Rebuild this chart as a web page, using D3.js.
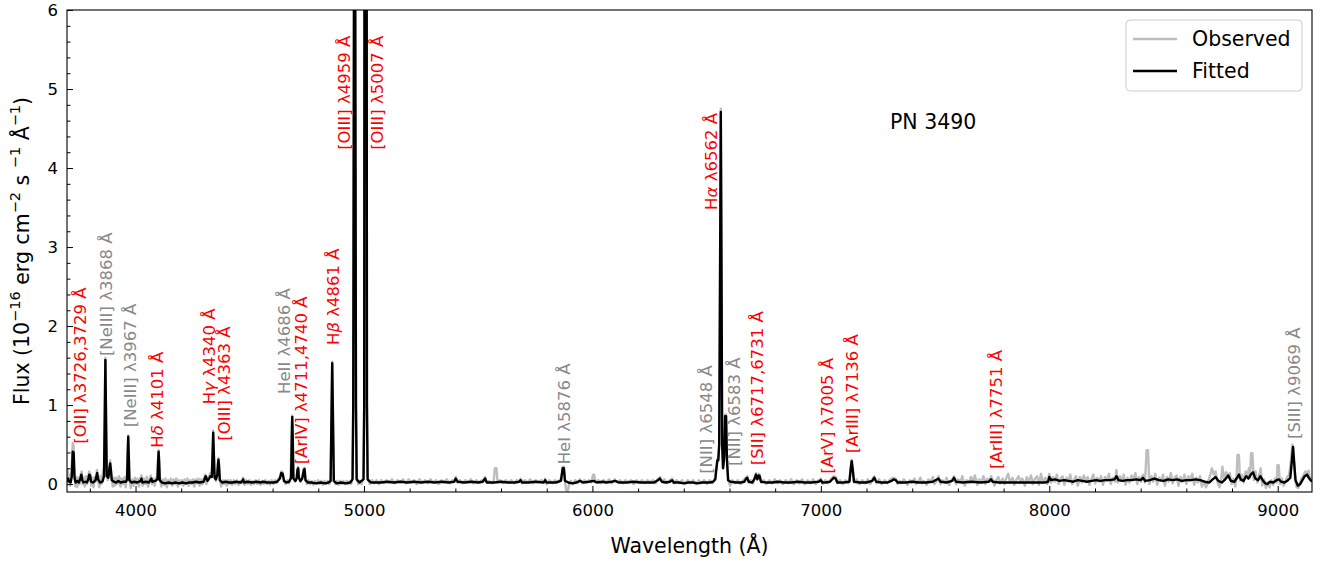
<!DOCTYPE html>
<html><head><meta charset="utf-8">
<script src="https://cdn.jsdelivr.net/npm/d3@7"></script>
<style>
body{margin:0;background:#fff}
text{font-family:"DejaVu Sans",sans-serif}
</style></head>
<body><svg id="chart" width="1325" height="561"></svg>
<script>
// ---------------- data ----------------
const xDomain = [3700, 9150];
const yDomain = [-0.1, 6];
const xMajorTicks = [4000, 5000, 6000, 7000, 8000, 9000];
const xMinorTicks = [3800, 4200, 4400, 4600, 4800, 5200, 5400, 5600, 5800, 6200, 6400, 6600, 6800, 7200, 7400, 7600, 7800, 8200, 8400, 8600, 8800];
const yMajorTicks = [0, 1, 2, 3, 4, 5, 6];
const yMinorTicks = [0.2,0.4,0.6,0.8,1.2,1.4,1.6,1.8,2.2,2.4,2.6,2.8,3.2,3.4,3.6,3.8,4.2,4.4,4.6,4.8,5.2,5.4,5.6,5.8];
const seriesNames = ["Observed", "Fitted"];
const objectName = "PN 3490";

// fitted model spectrum [wavelength Å, flux]
const fitted = [
[3700,0.03],[3705,0.07],[3710,0.03],[3716,0.02],[3721,0.1],[3725,0.41],[3729,0.40],[3733,0.08],[3738,0.02],[3746,0.04],[3752,0.02],[3759,0.08],[3763,0.12],[3767,0.05],[3772,0.02],[3780,0.03],[3787,0.02],[3793,0.06],[3797,0.12],[3801,0.11],[3805,0.03],[3814,0.02],[3825,0.05],[3832,0.14],[3836,0.06],[3845,0.02],[3855,0.03],[3862,0.1],[3865,0.8],[3868,1.57],[3871,0.8],[3874,0.1],[3881,0.08],[3886,0.2],[3889,0.26],[3892,0.18],[3896,0.05],[3905,0.03],[3915,0.02],[3925,0.04],[3935,0.02],[3947,0.03],[3958,0.03],[3963,0.06],[3966,0.4],[3968,0.6],[3970,0.4],[3973,0.05],[3982,0.02],[3995,0.03],[4008,0.02],[4022,0.04],[4026,0.07],[4030,0.02],[4045,0.03],[4058,0.02],[4065,0.05],[4069,0.07],[4073,0.03],[4086,0.04],[4096,0.06],[4099,0.3],[4101,0.41],[4103,0.3],[4106,0.05],[4115,0.02],[4130,0.01],[4145,0.02],[4160,0.01],[4175,0.02],[4190,0.01],[4205,0.02],[4220,0.01],[4235,0.02],[4250,0.02],[4265,0.03],[4280,0.02],[4298,0.03],[4307,0.1],[4315,0.04],[4322,0.07],[4328,0.1],[4334,0.09],[4338,0.45],[4340,0.65],[4342,0.45],[4346,0.08],[4352,0.06],[4358,0.12],[4361,0.25],[4363,0.31],[4365,0.25],[4369,0.05],[4380,0.02],
[4395,0.03],[4410,0.02],[4425,0.02],[4440,0.03],[4460,0.02],[4468,0.04],[4471,0.06],[4475,0.02],[4490,0.03],[4510,0.02],[4530,0.03],[4545,0.02],[4560,0.03],[4575,0.02],[4590,0.02],[4605,0.02],[4620,0.03],[4632,0.07],[4638,0.14],[4644,0.13],[4650,0.04],[4660,0.02],[4672,0.03],[4681,0.08],[4684,0.6],[4686,0.85],[4688,0.6],[4691,0.07],[4700,0.04],[4706,0.08],[4709,0.18],[4712,0.2],[4715,0.08],[4722,0.04],[4730,0.07],[4737,0.18],[4740,0.19],[4744,0.05],[4755,0.02],[4770,0.02],[4790,0.01],[4810,0.02],[4830,0.01],[4845,0.02],[4854,0.04],[4858,0.9],[4861,1.53],[4864,0.9],[4868,0.04],[4880,0.01],[4900,0.02],[4920,0.01],[4940,0.02],[4950,0.06],[4953,1.0],[4958,9.0],[4960,9.0],[4965,1.0],[4968,0.06],[4980,0.02],[4998,0.06],[5001,1.0],[5006,26],[5008,26],[5013,1.0],[5016,0.06],[5030,0.02],[5050,0.02],[5075,0.02],[5100,0.03],[5130,0.02],[5160,0.03],[5190,0.02],[5220,0.03],[5250,0.02],[5280,0.03],[5310,0.02],[5340,0.03],[5370,0.02],[5395,0.03],[5402,0.07],[5410,0.03],[5440,0.02],[5470,0.03],[5500,0.02],[5520,0.03],[5530,0.07],[5538,0.02],[5570,0.02],[5600,0.03],[5630,0.02],[5660,0.02],[5680,0.03],[5686,0.05],[5692,0.02],[5720,0.02],[5750,0.03],[5787,0.02],[5793,0.05],[5799,0.02],[5840,0.02],[5862,0.04],[5870,0.2],[5875,0.2],[5880,0.04],[5895,0.02],[5911,0.01],[5930,0.02],[5945,0.04],[5960,0.02],[5985,0.03],[6005,0.04],[6020,0.02],[6045,0.03],[6060,0.02],[6085,0.03],[6100,0.04],[6115,0.02],[6150,0.02],[6180,0.03],[6210,0.02],[6240,0.02],[6270,0.02],[6286,0.05],[6296,0.07],[6304,0.03],[6320,0.02],[6340,0.03],[6349,0.05],[6356,0.02],[6380,0.02],[6400,0.01],[6420,0.02],[6440,0.02],[6460,0.01],[6480,0.02],[6500,0.02],[6515,0.02],[6528,0.03],[6538,0.06],[6543,0.2],[6547,0.30],[6551,0.30],[6555,0.5],[6559,2.8],[6562,4.71],[6565,2.8],[6568,0.5],[6572,0.2],[6577,0.35],[6581,0.86],[6585,0.86],[6589,0.3],[6594,0.05],[6605,0.03],[6630,0.02],[6650,0.02],[6665,0.03],[6673,0.07],[6678,0.08],[6684,0.03],[6700,0.02],[6710,0.07],[6716,0.12],[6722,0.06],[6728,0.11],[6732,0.1],[6738,0.03],[6760,0.02],[6790,0.02],[6810,0.03],[6840,0.02],[6870,0.02],[6900,0.03],[6930,0.02],[6960,0.02],[6990,0.03],[7000,0.05],[7006,0.02],[7020,0.02],[7040,0.03],[7056,0.08],[7065,0.07],[7072,0.02],[7100,0.02],[7125,0.03],[7131,0.2],[7135,0.29],[7139,0.2],[7145,0.03],[7170,0.02],[7200,0.02],[7225,0.04],[7234,0.08],[7243,0.03],[7265,0.02],[7290,0.02],[7310,0.04],[7318,0.06],[7328,0.05],[7336,0.02],[7370,0.02],[7400,0.03],[7430,0.02],[7460,0.02],[7490,0.03],[7515,0.07],[7524,0.03],[7550,0.02],[7575,0.04],[7583,0.08],[7592,0.03],[7620,0.02],[7660,0.03],[7700,0.02],[7735,0.03],[7745,0.06],[7752,0.03],[7780,0.02],[7820,0.02],[7860,0.02],[7900,0.02],[7940,0.02],[7980,0.02],[7995,0.03],[8000,0.09],[8008,0.05],[8025,0.06],[8045,0.04],[8065,0.05],[8085,0.04],[8105,0.03],[8125,0.05],[8145,0.04],[8165,0.03],[8185,0.04],[8205,0.05],[8225,0.04],[8245,0.05],[8265,0.05],[8285,0.06],[8294,0.1],[8303,0.05],[8320,0.04],[8340,0.05],[8360,0.05],[8380,0.06],[8400,0.05],[8410,0.08],[8420,0.04],[8440,0.05],[8460,0.07],[8480,0.05],[8500,0.04],[8520,0.06],[8540,0.05],[8560,0.06],[8580,0.04],[8600,0.05],[8620,0.05],[8640,0.06],[8660,0.05],[8680,0.03],[8700,0.02],[8715,0.06],[8728,0.09],[8740,0.04],[8755,0.02],[8770,0.06],[8783,0.11],[8795,0.04],[8810,0.03],[8822,0.08],[8830,0.12],[8838,0.06],[8850,0.04],[8862,0.1],[8872,0.07],[8882,0.12],[8892,0.15],[8902,0.07],[8914,0.05],[8924,0.1],[8934,0.05],[8945,0.01],[8955,0.0],[8965,0.03],[8980,0.02],[8995,0.05],[9005,0.06],[9015,0.03],[9030,0.02],[9045,0.05],[9055,0.08],[9062,0.3],[9067,0.47],[9071,0.3],[9078,0.05],[9088,-0.02],[9098,0.0],[9108,0.05],[9118,0.1],[9128,0.12],[9138,0.07],[9150,0.03]
];

// observed spectrum [wavelength Å, flux]
const observed = [
[3700,0.1],[3703,0.18],[3706,0.02],[3710,0.12],[3714,-0.02],[3718,0.1],[3722,0.3],[3725,0.52],[3729,0.48],[3732,0.15],[3736,-0.03],[3741,0.09],[3745,-0.04],[3750,0.08],[3755,0.0],[3760,0.12],[3764,0.16],[3768,0.0],[3773,0.08],[3778,-0.03],[3783,0.1],[3788,0.0],[3793,0.09],[3797,0.16],[3801,0.14],[3806,-0.02],[3811,0.08],[3816,-0.04],[3821,0.09],[3826,0.03],[3831,0.18],[3836,0.06],[3841,-0.04],[3846,0.1],[3851,0.0],[3856,0.12],[3862,0.2],[3865,0.8],[3868,1.6],[3871,0.85],[3874,0.15],[3878,0.05],[3882,0.14],[3886,0.24],[3889,0.3],[3892,0.2],[3896,0.08],[3900,-0.03],[3905,0.08],[3910,-0.02],[3916,0.08],[3922,0.0],[3928,0.1],[3934,-0.03],[3940,0.07],[3946,0.0],[3952,0.09],[3957,-0.04],[3962,0.1],[3966,0.42],[3968,0.62],[3970,0.42],[3974,0.08],[3979,-0.05],[3985,0.06],[3991,-0.02],[3997,0.08],[4003,0.0],[4009,0.07],[4015,-0.03],[4021,0.07],[4026,0.11],[4031,-0.02],[4037,0.07],[4043,0.0],[4049,0.09],[4055,-0.03],[4061,0.06],[4067,0.11],[4072,0.0],[4078,0.07],[4084,-0.02],[4090,0.08],[4096,0.1],[4099,0.32],[4101,0.43],[4103,0.32],[4107,0.06],[4113,-0.03],[4119,0.06],[4125,-0.01],[4131,0.07],[4137,-0.04],[4143,0.05],[4149,0.0],[4155,0.07],[4161,-0.02],[4167,0.06],[4173,0.0],[4179,0.07],[4185,-0.03],[4191,0.05],[4197,0.0],[4203,0.05],[4209,-0.02],[4215,0.06],[4221,0.0],[4227,0.07],[4233,-0.02],[4239,0.05],[4245,0.0],[4251,0.06],[4257,-0.03],[4263,0.06],[4269,0.01],[4275,0.07],[4281,-0.02],[4287,0.06],[4293,0.0],[4299,0.07],[4305,0.12],[4310,0.0],[4316,0.08],[4322,0.1],[4328,0.14],[4334,0.12],[4338,0.47],[4340,0.68],[4342,0.47],[4346,0.12],[4351,0.04],[4356,0.12],[4361,0.27],[4363,0.33],[4365,0.27],[4369,0.06],[4375,-0.03],[4381,0.05],[4387,0.0],[4393,0.05],[4399,-0.02],[4405,0.05],[4411,0.0],[4417,0.05],[4423,-0.01],[4430,0.05],[4437,0.0],[4444,0.05],[4451,-0.01],[4458,0.04],[4465,0.01],[4471,0.08],[4477,-0.01],[4484,0.05],[4491,0.0],[4498,0.05],[4505,-0.01],[4512,0.04],[4519,0.0],[4526,0.05],[4533,0.0],[4540,0.05],[4547,-0.01],[4554,0.04],[4561,0.0],[4568,0.05],[4575,0.0],[4582,0.04],[4589,-0.01],[4596,0.05],[4603,0.0],[4610,0.05],[4617,0.01],[4624,0.06],[4632,0.09],[4638,0.16],[4644,0.15],[4650,0.05],[4657,0.0],[4664,0.05],[4671,0.01],[4678,0.06],[4684,0.62],[4686,0.87],[4688,0.62],[4692,0.08],[4698,0.03],[4704,0.06],[4709,0.2],[4712,0.22],[4715,0.08],[4721,0.03],[4728,0.08],[4737,0.2],[4740,0.21],[4744,0.06],[4750,0.0],[4757,0.05],[4764,0.0],[4771,0.04],[4778,-0.01],[4785,0.04],[4792,0.0],[4799,0.05],[4806,0.0],[4813,0.04],[4820,-0.01],[4827,0.04],[4834,0.0],[4841,0.04],[4848,0.0],[4854,0.05],[4858,0.92],[4861,1.55],[4864,0.92],[4868,0.05],[4875,0.0],[4882,0.04],[4889,-0.01],[4896,0.04],[4903,0.0],[4910,0.04],[4917,0.0],[4924,0.04],[4931,0.0],[4938,0.04],[4944,0.0],[4950,0.08],[4953,1.0],[4958,9.0],[4960,9.0],[4965,1.0],[4968,0.08],[4975,0.0],[4982,0.04],[4989,0.0],[4998,0.08],[5001,1.0],[5006,26],[5008,26],[5013,1.0],[5016,0.08],[5025,0.0],[5035,0.05],[5045,0.01],[5055,0.05],[5065,0.0],
[5075,0.05],[5087,0.01],[5099,0.05],[5111,0.02],[5123,0.06],[5135,0.01],[5147,0.05],[5159,0.02],[5171,0.06],[5183,0.01],[5195,0.06],[5207,0.02],[5219,0.05],[5231,0.0],[5243,0.06],[5255,0.02],[5267,0.05],[5279,0.01],[5291,0.06],[5303,0.02],[5315,0.05],[5327,0.0],[5339,0.05],[5351,0.02],[5363,0.06],[5375,0.01],[5387,0.05],[5396,0.04],[5402,0.09],[5408,0.02],[5420,0.05],[5432,0.01],[5444,0.05],[5456,0.02],[5468,0.06],[5480,0.01],[5492,0.05],[5504,0.02],[5516,0.05],[5524,0.04],[5530,0.09],[5536,0.02],[5548,0.04],[5560,0.01],[5568,0.04],[5573,0.2],[5580,0.2],[5585,0.02],[5597,0.05],[5609,0.01],[5621,0.05],[5633,0.02],[5645,0.05],[5657,0.01],[5669,0.05],[5681,0.03],[5686,0.07],[5692,0.01],[5704,0.05],[5716,0.02],[5728,0.06],[5740,0.01],[5752,0.05],[5764,0.02],[5776,0.05],[5788,0.02],[5793,0.07],[5800,0.0],[5812,0.05],[5824,0.01],[5836,0.05],[5848,0.02],[5858,0.06],[5864,0.05],[5870,0.22],[5875,0.22],[5881,0.0],[5886,-0.08],[5892,-0.09],[5898,0.0],[5906,0.04],[5915,0.0],[5925,0.05],[5935,0.01],[5945,0.06],[5955,0.01],[5965,0.05],[5975,0.02],[5985,0.05],[5995,0.02],[6003,0.12],[6008,0.12],[6013,0.02],[6025,0.05],[6037,0.01],[6049,0.05],[6061,0.02],[6073,0.06],[6085,0.01],[6097,0.06],[6109,0.02],[6121,0.05],[6133,0.01],[6145,0.05],[6157,0.02],[6169,0.05],[6181,0.0],[6193,0.05],[6205,0.02],[6217,0.05],[6229,0.01],[6241,0.05],[6253,0.02],[6265,0.05],[6277,0.01],[6286,0.06],[6296,0.09],[6304,0.03],[6315,0.06],[6327,0.01],[6339,0.05],[6349,0.07],[6357,0.01],[6369,0.05],[6381,0.01],[6393,0.05],[6405,0.0],[6417,0.05],[6429,0.01],[6441,0.05],[6453,0.0],[6465,0.05],[6477,0.01],[6489,0.05],[6501,0.0],[6513,0.05],[6525,0.01],[6535,0.06],[6543,0.22],[6547,0.32],[6551,0.32],[6555,0.52],[6559,2.85],[6562,4.75],[6565,2.85],[6568,0.52],[6572,0.22],[6577,0.37],[6581,0.88],[6585,0.88],[6589,0.32],[6594,0.06],[6602,-0.02],[6612,0.05],[6624,0.01],[6636,0.05],[6648,0.0],[6660,0.05],[6673,0.08],[6678,0.1],[6684,0.02],[6694,0.05],[6704,0.01],[6710,0.08],[6716,0.14],[6722,0.07],[6728,0.13],[6732,0.12],[6738,0.02],[6750,0.05],[6762,0.0],[6774,0.05],[6786,0.01],[6798,0.06],[6810,0.01],[6822,0.05],[6834,0.0],[6846,0.05],[6858,0.01],[6870,0.06],[6882,0.0],[6894,0.05],[6906,0.01],[6918,0.06],[6930,0.0],[6942,0.05],[6954,0.01],[6966,0.06],[6978,0.0],[6990,0.05],[7000,0.07],[7007,0.0],[7019,0.05],[7031,0.01],[7043,0.06],[7056,0.1],[7065,0.09],[7072,0.01],[7084,0.05],[7096,0.0],[7108,0.05],[7120,0.01],[7126,0.05],[7131,0.22],[7135,0.31],[7139,0.22],[7145,0.02],[7157,0.06],[7169,0.0],[7181,0.05],[7193,0.01],[7205,0.06],[7217,0.0],[7225,0.06],[7234,0.1],[7243,0.01],[7255,0.06],[7267,0.0],[7279,0.05],[7291,0.01],
[7303,0.06],[7318,0.08],[7328,0.07],[7336,0.0],[7345,0.04],[7352,0.01],[7363,0.06],[7371,0.03],[7379,-0.01],[7390,0.05],[7398,0.02],[7410,0.07],[7417,0.0],[7425,0.03],[7436,0.08],[7444,0.01],[7451,0.04],[7463,-0.01],[7470,0.06],[7482,0.03],[7490,0.09],[7497,0.0],[7508,0.04],[7515,0.1],[7524,0.0],[7531,0.05],[7543,0.02],[7550,0.08],[7561,-0.01],[7569,0.04],[7577,0.07],[7583,0.1],[7592,0.0],[7600,0.06],[7612,0.03],[7619,0.1],[7630,-0.02],[7638,0.05],[7649,0.02],[7657,0.09],[7666,0.04],[7674,0.11],[7685,-0.01],[7693,0.06],[7701,0.02],[7712,0.1],[7720,0.0],[7729,0.07],[7737,0.03],[7745,0.1],[7752,0.06],[7760,-0.02],[7768,0.05],[7777,0.09],[7785,0.01],[7796,0.07],[7804,0.0],[7812,0.08],[7820,0.13],[7828,0.02],[7839,0.08],[7847,-0.01],[7855,0.05],[7866,0.1],[7874,0.02],[7882,0.07],[7893,-0.02],[7901,0.09],[7909,0.03],[7920,0.11],[7928,0.0],[7936,0.06],[7947,0.1],[7955,-0.01],[7964,0.13],[7972,0.02],[7983,0.08],[7991,0.0],[8000,0.13],[8008,0.02],[8016,0.09],[8024,0.03],[8033,0.12],[8041,0.0],[8050,0.07],[8058,0.1],[8066,-0.01],[8075,0.08],[8083,0.03],[8092,0.12],[8100,0.0],[8109,0.06],[8117,0.1],[8125,-0.02],[8134,0.09],[8142,0.02],[8151,0.11],[8159,0.04],[8168,0.09],[8176,-0.01],[8185,0.07],[8193,0.12],[8201,0.01],[8210,0.08],[8218,0.03],[8227,0.1],[8235,-0.01],[8244,0.09],[8252,0.04],[8261,0.13],[8269,0.0],[8278,0.08],[8288,0.03],[8294,0.18],[8300,0.02],[8309,0.1],[8317,0.04],[8326,0.12],[8334,-0.01],[8343,0.08],[8351,0.02],[8360,0.11],[8368,0.05],[8377,0.14],[8385,0.0],[8394,0.09],[8402,0.03],[8410,0.12],[8419,0.02],[8426,0.43],[8432,0.43],[8438,0.0],[8447,0.1],[8455,0.03],[8464,0.13],[8472,-0.01],[8481,0.08],[8489,0.04],[8498,0.12],[8506,-0.02],[8515,0.09],[8523,0.03],[8532,0.14],[8540,0.01],[8549,0.08],[8557,0.11],[8566,-0.02],[8574,0.09],[8583,0.03],[8592,0.12],[8600,0.0],[8609,0.1],[8617,0.04],[8626,0.13],[8634,-0.01],[8643,0.08],[8651,0.02],[8660,0.1],[8668,-0.03],[8677,0.04],[8686,-0.04],[8695,0.03],[8703,0.1],[8712,0.2],[8720,0.12],[8728,0.16],[8736,0.03],[8745,-0.04],[8753,0.08],[8758,0.22],[8766,0.05],[8774,0.15],[8782,0.1],[8790,0.14],[8798,0.0],[8806,0.07],[8814,-0.03],[8820,0.1],[8824,0.37],[8830,0.37],[8835,0.04],[8843,0.12],[8851,0.02],[8859,0.16],[8867,0.1],[8874,0.2],[8879,0.08],[8883,0.39],[8889,0.39],[8895,0.05],[8903,0.16],[8911,0.02],[8918,0.1],[8925,0.2],[8932,-0.02],[8940,0.06],[8948,-0.05],[8956,0.02],[8964,-0.04],[8972,0.05],[8980,-0.01],[8988,0.07],[8995,0.02],[8999,0.24],[9004,0.24],[9010,0.0],[9018,0.07],[9026,-0.02],[9034,0.04],[9042,0.09],[9050,0.12],[9058,0.3],[9064,0.5],[9070,0.4],[9076,0.05],[9083,-0.04],[9090,-0.05],[9098,0.02],[9106,0.08],[9114,0.12],[9121,0.16],[9128,0.14],[9135,0.17],[9142,0.05],[9150,0.08]
];

// emission-line annotations: label text, anchor wavelength, anchor flux, used in fit (red) or not (gray)
const lineNames  = ["[OII] λ3726,3729 Å","[NeIII] λ3868 Å","[NeIII] λ3967 Å","Hδ λ4101 Å","Hγ λ4340 Å","[OIII] λ4363 Å","HeII λ4686 Å","[ArIV] λ4711,4740 Å","Hβ λ4861 Å","[OIII] λ4959 Å","[OIII] λ5007 Å","HeI λ5876 Å","Hα λ6562 Å","[NII] λ6548 Å","[NII] λ6583 Å","[SII] λ6717,6731 Å","[ArV] λ7005 Å","[ArIII] λ7136 Å","[ArIII] λ7751 Å","[SIII] λ9069 Å"];
const labelWave  = [3757,3871,3976,4094,4322,4387,4650,4724,4864,4912,5057,5876,6519,6497,6620,6720,7027,7136,7767,9071];
const labelFlux  = [0.51,1.62,0.72,0.46,1.01,0.55,1.14,0.25,1.76,4.23,4.23,0.25,3.47,0.13,0.23,0.24,0.13,0.39,0.19,0.57];
const lineUsed   = [true,false,false,true,true,true,false,true,true,true,true,false,true,false,false,true,true,true,true,false];

// ---------------- drawing ----------------
const m = {left: 67, right: 1312, top: 10, bottom: 492};
const svg = d3.select("#chart");
const x = d3.scaleLinear().domain(xDomain).range([m.left, m.right]);
const y = d3.scaleLinear().domain(yDomain).range([m.bottom, m.top]);

svg.append("defs").append("clipPath").attr("id","clip")
  .append("rect").attr("x", m.left).attr("y", m.top)
  .attr("width", m.right - m.left).attr("height", m.bottom - m.top);

const line = d3.line().x(d => x(d[0])).y(d => y(d[1]));
const plot = svg.append("g").attr("clip-path","url(#clip)");
plot.append("path").datum(observed).attr("d", line)
  .attr("fill","none").attr("stroke","#bdbdbd").attr("stroke-width",2.4).attr("stroke-linejoin","round");
plot.append("path").datum(fitted).attr("d", line)
  .attr("fill","none").attr("stroke","#000").attr("stroke-width",2.4).attr("stroke-linejoin","round");

// axes (inward ticks)
const gx = svg.append("g").attr("transform",`translate(0,${m.bottom})`)
  .call(d3.axisBottom(x).tickValues(xMajorTicks).tickSize(-6).tickPadding(12).tickFormat(d3.format("d")));
const gxm = svg.append("g").attr("transform",`translate(0,${m.bottom})`)
  .call(d3.axisBottom(x).tickValues(xMinorTicks).tickSize(-3.5).tickFormat(""));
const gy = svg.append("g").attr("transform",`translate(${m.left},0)`)
  .call(d3.axisLeft(y).tickValues(yMajorTicks).tickSize(-6).tickPadding(9).tickFormat(d3.format("d")));
const gym = svg.append("g").attr("transform",`translate(${m.left},0)`)
  .call(d3.axisLeft(y).tickValues(yMinorTicks).tickSize(-3.5).tickFormat(""));
[gx,gxm,gy,gym].forEach(g => {
  g.select(".domain").remove();
  g.selectAll(".tick line").attr("stroke","#000").attr("stroke-width",1);
  g.selectAll("text").attr("font-size","16.5px").attr("fill","#000").attr("font-family","DejaVu Sans");
});

// frame
svg.append("rect").attr("x", m.left).attr("y", m.top)
  .attr("width", m.right - m.left).attr("height", m.bottom - m.top)
  .attr("fill","none").attr("stroke","#000").attr("stroke-width",1.1);

// line labels
const greek = "αβγδ";
lineNames.forEach((name, i) => {
  const t = svg.append("text")
    .attr("transform", `translate(${x(labelWave[i])},${y(labelFlux[i])}) rotate(-90)`)
    .attr("text-anchor","start").attr("dominant-baseline","central")
    .attr("font-size","16.5px").attr("fill", lineUsed[i] ? "#ff0000" : "#888888");
  for (const ch of name) {
    t.append("tspan").attr("font-style", greek.includes(ch) ? "italic" : "normal").text(ch);
  }
});

// object name
svg.append("text").attr("x", 890).attr("y", 122).attr("dominant-baseline","central")
  .attr("font-size","20.5px").attr("fill","#000").text(objectName);

// axis titles
svg.append("text").attr("x", (m.left + m.right) / 2).attr("y", 546)
  .attr("text-anchor","middle").attr("dominant-baseline","central")
  .attr("font-size","20.5px").text("Wavelength (Å)");

const yl = svg.append("text").attr("transform", `translate(22,${(m.top + m.bottom) / 2}) rotate(-90)`)
  .attr("text-anchor","middle").attr("dominant-baseline","central").attr("font-size","20.5px");
const parts = [["Flux (10",0],["−16",1],[" erg cm",0],["−2",1],[" s ",0],["−1",1],[" Å",0],["−1",1],[")",0]];
parts.forEach(([s, sup]) => {
  yl.append("tspan").attr("font-size", sup ? "14.5px" : "20.5px")
    .attr("baseline-shift", sup ? "7px" : "0").text(s);
});

// legend
const lg = svg.append("g");
lg.append("rect").attr("x",1126).attr("y",20).attr("width",176).attr("height",71).attr("rx",4)
  .attr("fill","#fff").attr("fill-opacity",0.8).attr("stroke","#cccccc").attr("stroke-width",1);
const legColors = ["#bdbdbd", "#000"];
seriesNames.forEach((n, i) => {
  const yy = 39 + i * 32;
  lg.append("line").attr("x1",1133).attr("x2",1177).attr("y1",yy).attr("y2",yy)
    .attr("stroke", legColors[i]).attr("stroke-width",2.4);
  lg.append("text").attr("x",1192).attr("y",yy).attr("dominant-baseline","central")
    .attr("font-size","20.5px").text(n);
});
</script>
</body></html>
